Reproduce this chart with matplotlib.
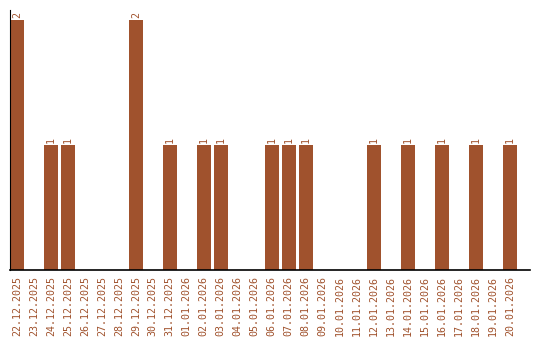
import matplotlib
matplotlib.use("Agg")
import matplotlib.pyplot as plt

# Daten
datas = ["22.12.2025", "23.12.2025", "24.12.2025", "25.12.2025", "26.12.2025",
         "27.12.2025", "28.12.2025", "29.12.2025", "30.12.2025", "31.12.2025",
         "01.01.2026", "02.01.2026", "03.01.2026", "04.01.2026", "05.01.2026",
         "06.01.2026", "07.01.2026", "08.01.2026", "09.01.2026", "10.01.2026",
         "11.01.2026", "12.01.2026", "13.01.2026", "14.01.2026", "15.01.2026",
         "16.01.2026", "17.01.2026", "18.01.2026", "19.01.2026", "20.01.2026"]
valores = [2, 0, 1, 1, 0, 0, 0, 2, 0, 1,
           0, 1, 1, 0, 0, 1, 1, 1, 0, 0,
           0, 1, 0, 1, 0, 1, 0, 1, 0, 1]

cor = "#A0522D"

fig = plt.figure(figsize=(5.4, 3.4), dpi=100)
ax = fig.add_axes([10 / 540, 70 / 340, 520 / 540, 260 / 340])

x = list(range(len(datas)))
ax.bar(x, valores, width=0.8, color=cor)

for xi, v in zip(x, valores):
    if v > 0:
        ax.text(xi, v + 0.015, str(v), rotation=90, ha="center", va="bottom",
                fontsize=7.2, color=cor, family="DejaVu Sans Mono")

ax.set_xlim(-0.4, 30.19)
ax.set_ylim(0, 2.08)
ax.set_xticks(x)
ax.set_xticklabels(datas, rotation=90, fontsize=7.2, color=cor, family="DejaVu Sans Mono")
ax.tick_params(axis="x", length=0, pad=4)
ax.set_yticks([])
ax.spines["top"].set_visible(False)
ax.spines["right"].set_visible(False)
ax.spines["left"].set_linewidth(0.8)
ax.spines["bottom"].set_linewidth(1.2)

fig.savefig("out.png", dpi=100)
